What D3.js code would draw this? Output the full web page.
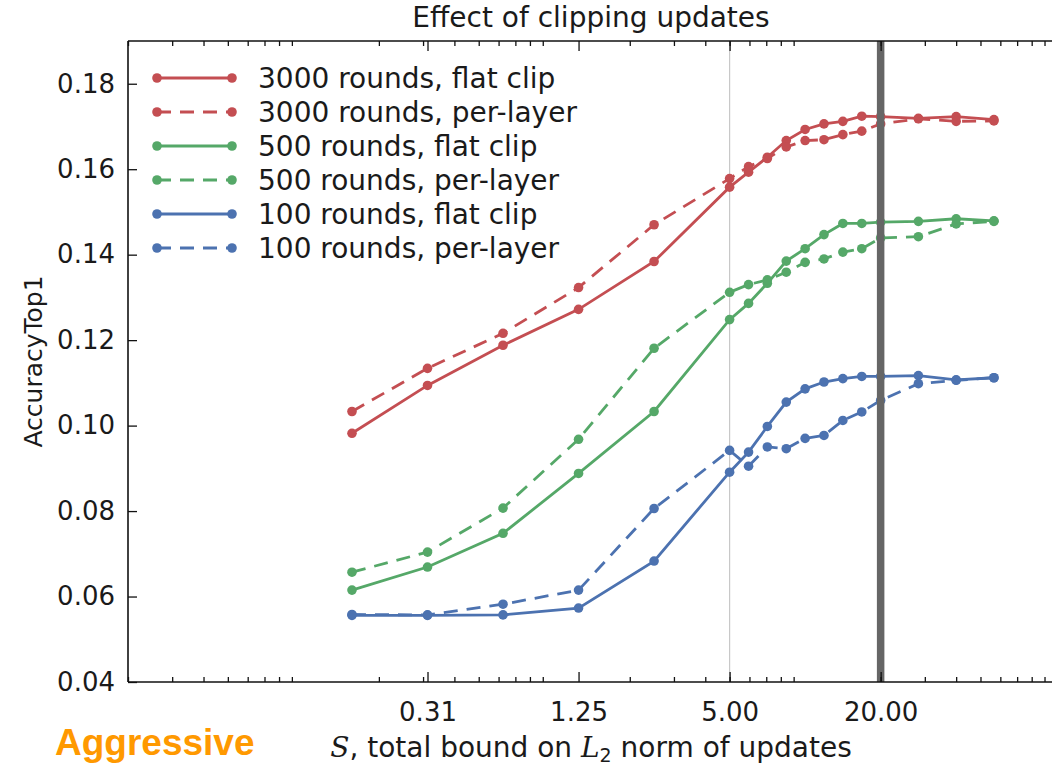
<!DOCTYPE html>
<html>
<head>
<meta charset="utf-8">
<script src="https://cdn.jsdelivr.net/npm/d3@7"></script>
<style>
  html, body { margin: 0; padding: 0; background: #fff; }
  svg { display: block; }
</style>
</head>
<body>
<svg id="chart" width="1052" height="766"></svg>
<script>
// Clipping bound S (total L2 norm bound on updates)
const clipBounds = [0.15625, 0.3125, 0.625, 1.25, 2.5, 5, 5.95, 7.07, 8.41, 10, 11.89, 14.14, 16.82, 20, 28.28, 40, 56.57];

// AccuracyTop1 per configuration
const flat3000  = [0.0982, 0.1094, 0.1188, 0.1272, 0.1384, 0.1558, 0.1593, 0.1628, 0.1667, 0.1693, 0.1706, 0.1712, 0.1724, 0.1723, 0.1719, 0.1723, 0.1716];
const layer3000 = [0.1033, 0.1134, 0.1216, 0.1323, 0.1470, 0.1578, 0.1606, 0.1625, 0.1652, 0.1667, 0.1669, 0.1681, 0.1689, 0.1706, 0.1718, 0.1712, 0.1713];
const flat500   = [0.0615, 0.0669, 0.0748, 0.0888, 0.1033, 0.1248, 0.1286, 0.1333, 0.1385, 0.1414, 0.1447, 0.1473, 0.1473, 0.1476, 0.1478, 0.1484, 0.1479];
const layer500  = [0.0657, 0.0704, 0.0807, 0.0968, 0.1181, 0.1312, 0.1330, 0.1341, 0.1359, 0.1382, 0.1390, 0.1406, 0.1414, 0.1439, 0.1442, 0.1472, 0.1478];
const flat100   = [0.0556, 0.0556, 0.0557, 0.0573, 0.0683, 0.0891, 0.0938, 0.0998, 0.1055, 0.1086, 0.1102, 0.1110, 0.1115, 0.1115, 0.1117, 0.1107, 0.1112];
const layer100  = [0.0558, 0.0557, 0.0582, 0.0615, 0.0806, 0.0942, 0.0905, 0.0950, 0.0946, 0.0970, 0.0977, 0.1012, 0.1032, 0.1059, 0.1098, 0.1106, 0.1112];

const seriesNames = ["3000 rounds, flat clip", "3000 rounds, per-layer", "500 rounds, flat clip",
                     "500 rounds, per-layer", "100 rounds, flat clip", "100 rounds, per-layer"];
const seriesValues = [flat3000, layer3000, flat500, layer500, flat100, layer100];
const seriesColors = ["#C44E52", "#C44E52", "#55A868", "#55A868", "#4C72B0", "#4C72B0"];
const seriesDashed = [false, true, false, true, false, true];

// Axis ticks
const xTickValues = [0.3125, 1.25, 5, 20];
const xTickLabels = ["0.31", "1.25", "5.00", "20.00"];
const yTickValues = [0.04, 0.06, 0.08, 0.10, 0.12, 0.14, 0.16, 0.18];
const xDomain = [0.02, 100];
const yDomain = [0.04, 0.19];
const referenceBound = 5;   // thin guide
const chosenBound = 20;     // highlighted bound

const FONT = "DejaVu Sans, sans-serif";
const INK = "#1a1a1a";

const svg = d3.select("#chart");
const L = 128, R = 1056, T = 41, B = 682;

const x = d3.scaleLog().domain(xDomain).range([L, R]);
const y = d3.scaleLinear().domain(yDomain).range([B, T]);

const plot = svg.append("g");

// thin vertical guide at S = 5
plot.append("line")
  .attr("x1", x(referenceBound)).attr("x2", x(referenceBound))
  .attr("y1", T).attr("y2", B)
  .attr("stroke", "#c8c8c8").attr("stroke-width", 1.2);

// series
const lineGen = d3.line().x(d => x(d[0])).y(d => y(d[1]));
seriesValues.forEach((vals, i) => {
  const pts = clipBounds.map((c, j) => [c, vals[j]]);
  const g = plot.append("g");
  g.append("path").datum(pts)
    .attr("d", lineGen)
    .attr("fill", "none")
    .attr("stroke", seriesColors[i])
    .attr("stroke-width", 2.8)
    .attr("stroke-dasharray", seriesDashed[i] ? "14,9" : null);
  g.selectAll("circle").data(pts).join("circle")
    .attr("cx", d => x(d[0])).attr("cy", d => y(d[1]))
    .attr("r", 4.8).attr("fill", seriesColors[i]);
});

// thick vertical line at S = 20
plot.append("line")
  .attr("x1", x(chosenBound)).attr("x2", x(chosenBound))
  .attr("y1", T).attr("y2", B)
  .attr("stroke", "#666").attr("stroke-width", 7.5);

// spines
const spine = svg.append("g").attr("stroke", "#111").attr("stroke-width", 1.6);
spine.append("line").attr("x1", L).attr("x2", R).attr("y1", B).attr("y2", B);
spine.append("line").attr("x1", L).attr("x2", R).attr("y1", T).attr("y2", T);
spine.append("line").attr("x1", L).attr("x2", L).attr("y1", T).attr("y2", B);

// x axis: labelled major ticks, log minor ticks, all pointing inward (bottom and top)
const minorTicks = x.ticks().filter(v => {
  const m = v / Math.pow(10, Math.floor(Math.log10(v) + 1e-9));
  return Math.abs(m - 1) > 1e-6;
});
const xAxisBottom = svg.append("g").attr("transform", `translate(0,${B})`);
xAxisBottom.append("g")
  .call(d3.axisBottom(x).tickValues(minorTicks).tickSize(-5).tickFormat(""))
  .call(g => g.select(".domain").remove());
xAxisBottom.append("g")
  .call(d3.axisBottom(x).tickValues(xTickValues).tickSize(-10).tickPadding(21)
    .tickFormat((d, i) => xTickLabels[i]))
  .call(g => g.select(".domain").remove())
  .call(g => g.selectAll("text").attr("font-size", 26).attr("font-family", FONT).attr("fill", INK));

const xAxisTop = svg.append("g").attr("transform", `translate(0,${T})`);
xAxisTop.append("g")
  .call(d3.axisTop(x).tickValues(minorTicks).tickSize(-5).tickFormat(""))
  .call(g => g.select(".domain").remove());
xAxisTop.append("g")
  .call(d3.axisTop(x).tickValues(xTickValues).tickSize(-10).tickFormat(""))
  .call(g => g.select(".domain").remove());
svg.selectAll(".tick line").attr("stroke", "#111").attr("stroke-width", 1.3);

// y axis
const yAxis = svg.append("g").attr("transform", `translate(${L},0)`)
  .call(d3.axisLeft(y).tickValues(yTickValues).tickSize(-9).tickPadding(13).tickFormat(d3.format(".2f")))
  .call(g => g.select(".domain").remove());
yAxis.selectAll("text").attr("font-size", 26).attr("font-family", FONT).attr("fill", INK);
yAxis.selectAll(".tick line").attr("stroke", "#111").attr("stroke-width", 1.3);

// title
svg.append("text").attr("x", (L + R) / 2 - 1).attr("y", 27)
  .attr("text-anchor", "middle").attr("font-size", 28)
  .attr("font-family", FONT).attr("fill", INK)
  .text("Effect of clipping updates");

// y label
svg.append("text")
  .attr("transform", `translate(42,${(T + B) / 2}) rotate(-90)`)
  .attr("text-anchor", "middle").attr("font-size", 25)
  .attr("font-family", FONT).attr("fill", INK)
  .text("AccuracyTop1");

// x label with math glyphs
const xl = svg.append("text").attr("x", (L + R) / 2 - 1).attr("y", 757)
  .attr("text-anchor", "middle").attr("font-size", 28)
  .attr("font-family", FONT).attr("fill", INK);
xl.append("tspan").attr("font-family", "DejaVu Serif").attr("font-style", "italic").text("S");
xl.append("tspan").text(", total bound on ");
xl.append("tspan").attr("font-family", "DejaVu Serif").attr("font-style", "italic").text("L");
xl.append("tspan").attr("font-size", 19).attr("dy", 5).text("2");
xl.append("tspan").attr("dy", -5).text(" norm of updates");

// annotation
svg.append("text").attr("x", 55).attr("y", 755)
  .attr("font-family", "'Liberation Sans', Arial, sans-serif").attr("font-weight", "bold")
  .attr("font-size", 37).attr("fill", "#FF9900")
  .text("Aggressive");

// legend
const legend = svg.append("g");
seriesNames.forEach((name, i) => {
  const yy = 78 + i * 34;
  const g = legend.append("g");
  g.append("line").attr("x1", 157).attr("x2", 232).attr("y1", yy).attr("y2", yy)
    .attr("stroke", seriesColors[i]).attr("stroke-width", 2.8)
    .attr("stroke-dasharray", seriesDashed[i] ? "14,9" : null);
  [157, 232].forEach(cx => g.append("circle").attr("cx", cx).attr("cy", yy).attr("r", 4.8).attr("fill", seriesColors[i]));
  g.append("text").attr("x", 258).attr("y", yy + 10).attr("font-size", 28)
    .attr("font-family", FONT).attr("fill", INK).text(name);
});
</script>
</body>
</html>
